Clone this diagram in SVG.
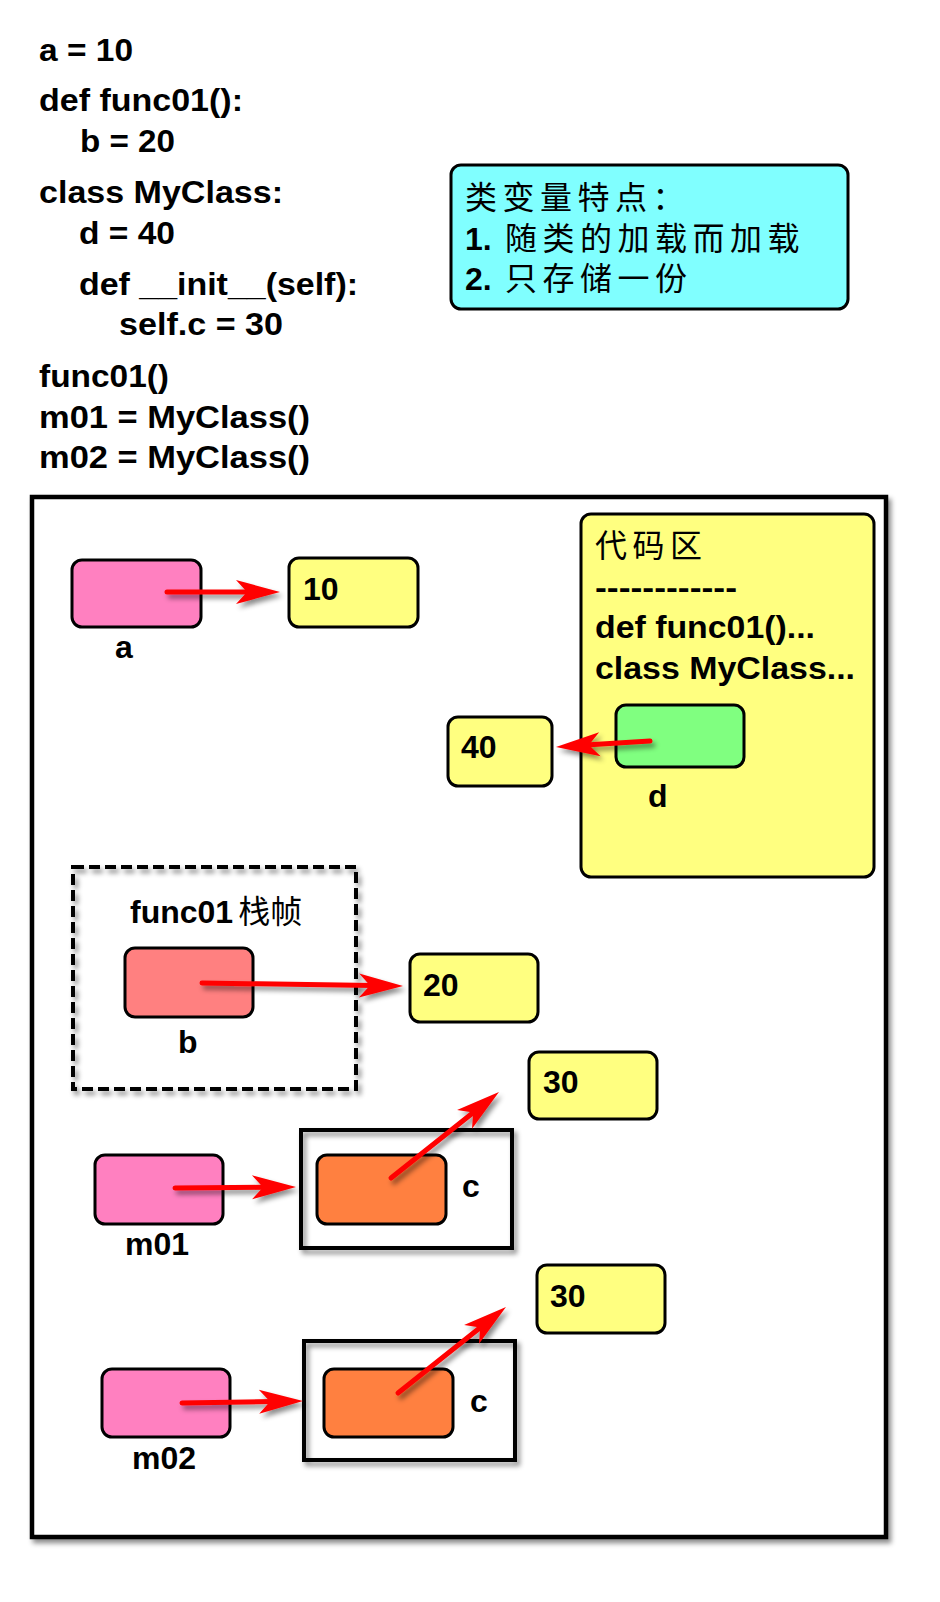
<svg xmlns="http://www.w3.org/2000/svg" width="940" height="1602" viewBox="0 0 940 1602">
<defs>
<style>
.t{font-family:"Liberation Sans",Arial,sans-serif;font-weight:bold;font-size:32px;fill:#000}
.cjk{font-family:"Noto Sans CJK SC","Noto Sans CJK JP",sans-serif;font-weight:normal;font-size:32px;fill:#000}
.sp{letter-spacing:5.5px}
.box{stroke:#000;stroke-width:3}
.frame{fill:none;stroke:#000;stroke-width:4}
.pink{fill:#FF80C0}
.yel{fill:#FFFF80}
.green{fill:#80FF80}
.salmon{fill:#FF8080}
.orange{fill:#FF8040}
.cyan{fill:#80FFFF}
.arr{fill:none;stroke:#FF0000;stroke-width:5;stroke-linecap:round;marker-end:url(#ah)}
</style>
<filter id="sh" filterUnits="userSpaceOnUse" x="0" y="0" width="940" height="1602">
<feDropShadow dx="3" dy="4" stdDeviation="2.5" flood-color="#000" flood-opacity="0.45"/>
</filter>
<marker id="ah" markerUnits="userSpaceOnUse" viewBox="-46 -14 48 28" refX="-30" refY="0" markerWidth="48" markerHeight="28" orient="auto" overflow="visible">
<path d="M0,0 L-44,-12 L-33,0 L-44,12 Z" fill="#FF0000"/>
</marker>
</defs>
<rect x="0" y="0" width="940" height="1602" fill="#FFFFFF"/>

<g id="source-code">
<text class="t" x="39" y="61" textLength="94" lengthAdjust="spacingAndGlyphs">a = 10</text>
<text class="t" x="39" y="111" textLength="204" lengthAdjust="spacingAndGlyphs">def func01():</text>
<text class="t" x="80" y="152" textLength="95" lengthAdjust="spacingAndGlyphs">b = 20</text>
<text class="t" x="39" y="203" textLength="244" lengthAdjust="spacingAndGlyphs">class MyClass:</text>
<text class="t" x="79" y="244" textLength="96" lengthAdjust="spacingAndGlyphs">d = 40</text>
<text class="t" x="79" y="295" textLength="279" lengthAdjust="spacingAndGlyphs">def __init__(self):</text>
<text class="t" x="119" y="335" textLength="164" lengthAdjust="spacingAndGlyphs">self.c = 30</text>
<text class="t" x="39" y="387" textLength="130" lengthAdjust="spacingAndGlyphs">func01()</text>
<text class="t" x="39" y="428" textLength="271" lengthAdjust="spacingAndGlyphs">m01 = MyClass()</text>
<text class="t" x="39" y="468" textLength="271" lengthAdjust="spacingAndGlyphs">m02 = MyClass()</text>
</g>

<g id="note">
<rect class="cyan box" x="451" y="165" width="397" height="144" rx="10"/>
<text class="cjk sp" x="465" y="209">类变量特点：</text>
<text class="t" x="465" y="250">1.</text>
<text class="cjk sp" x="505" y="250">随类的加载而加载</text>
<text class="t" x="465" y="290">2.</text>
<text class="cjk sp" x="505" y="290">只存储一份</text>
</g>

<g id="memory" filter="url(#sh)">
<rect x="32" y="497" width="854" height="1040" fill="#FFFFFF" stroke="#000" stroke-width="4.5"/>
</g>

<g id="code-area">
<rect class="yel box" x="581" y="514" width="293" height="363" rx="10"/>
<text class="cjk sp" x="595" y="557">代码区</text>
<text class="t" x="595" y="598" textLength="142" lengthAdjust="spacingAndGlyphs">------------</text>
<text class="t" x="595" y="638" textLength="220" lengthAdjust="spacingAndGlyphs">def func01()...</text>
<text class="t" x="595" y="679" textLength="260" lengthAdjust="spacingAndGlyphs">class MyClass...</text>
</g>

<g id="node-d">
<rect class="green box" x="616" y="705" width="128" height="62" rx="10"/>
<text class="t" x="648" y="807">d</text>
</g>

<g id="node-a">
<rect class="pink box" x="72" y="560" width="129" height="67" rx="10"/>
<text class="t" x="115" y="658">a</text>
</g>

<g id="value-10">
<rect class="yel box" x="289" y="558" width="129" height="69" rx="10"/>
<text class="t" x="303" y="600">10</text>
</g>

<g id="value-40">
<rect class="yel box" x="448" y="717" width="104" height="69" rx="10"/>
<text class="t" x="461" y="758">40</text>
</g>

<g id="frame-func01">
<rect x="73" y="867" width="283" height="222" fill="none" stroke="#000" stroke-width="4" stroke-dasharray="11 5" filter="url(#sh)"/>
<text x="130" y="923"><tspan class="t">func01</tspan><tspan class="cjk" dx="5">栈帧</tspan></text>
</g>

<g id="node-b">
<rect class="salmon box" x="125" y="948" width="128" height="69" rx="10"/>
<text class="t" x="178" y="1053">b</text>
</g>

<g id="value-20">
<rect class="yel box" x="410" y="954" width="128" height="68" rx="10"/>
<text class="t" x="423" y="996">20</text>
</g>

<g id="value-30-1">
<rect class="yel box" x="529" y="1052" width="128" height="67" rx="10"/>
<text class="t" x="543" y="1093">30</text>
</g>

<g id="node-m01">
<rect class="pink box" x="95" y="1155" width="128" height="69" rx="10"/>
<text class="t" x="125" y="1255">m01</text>
</g>

<g id="object-m01">
<rect class="frame" x="301" y="1130" width="211" height="118" filter="url(#sh)"/>
<rect class="orange box" x="317" y="1155" width="129" height="69" rx="10"/>
<text class="t" x="462" y="1197">c</text>
</g>

<g id="value-30-2">
<rect class="yel box" x="537" y="1265" width="128" height="68" rx="10"/>
<text class="t" x="550" y="1307">30</text>
</g>

<g id="node-m02">
<rect class="pink box" x="102" y="1369" width="128" height="68" rx="10"/>
<text class="t" x="132" y="1469">m02</text>
</g>

<g id="object-m02">
<rect class="frame" x="304" y="1341" width="211" height="119" filter="url(#sh)"/>
<rect class="orange box" x="324" y="1369" width="129" height="68" rx="10"/>
<text class="t" x="470" y="1412">c</text>
</g>

<g id="connectors" filter="url(#sh)">
<path class="arr" d="M167,592 L250,592"/>
<path class="arr" d="M650,741 L585.9,745.1"/>
<path class="arr" d="M202,983 L373,985.6"/>
<path class="arr" d="M175,1188 L266,1187.2"/>
<path class="arr" d="M391,1178 L475.5,1110.7"/>
<path class="arr" d="M182,1403 L273,1401.5"/>
<path class="arr" d="M398,1393 L482.5,1325.7"/>
</g>
</svg>
